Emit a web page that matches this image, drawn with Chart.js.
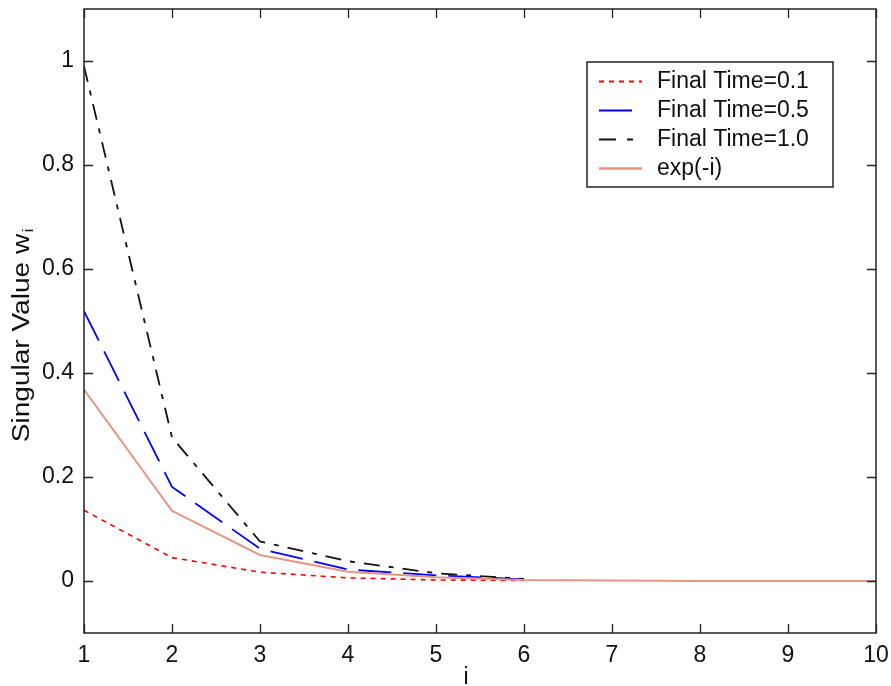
<!DOCTYPE html>
<html>
<head>
<meta charset="utf-8">
<title>Singular values</title>
<script src="https://cdn.jsdelivr.net/npm/chart.js@4.4.1/dist/chart.umd.min.js"></script>
<style>
  html, body { margin: 0; padding: 0; background: #ffffff; }
  #wrap { width: 891px; height: 686px; }
</style>
</head>
<body>
<div id="wrap"><canvas id="c" width="891" height="686"></canvas></div>
<script>
// index i of each singular value
const iValues = [1, 2, 3, 4, 5, 6, 7, 8, 9, 10];
// singular values w_i for each final time
const finalTime01 = [0.136, 0.045, 0.017, 0.006, 0.002, 0.001];
const finalTime05 = [0.519, 0.181, 0.062, 0.022, 0.011, 0.003];
const finalTime10 = [0.990, 0.276, 0.076, 0.038, 0.015, 0.004];
// reference curve exp(-i)
const expMinusI = [0.368, 0.135, 0.050, 0.018, 0.007, 0.002, 0.001, 0.000, 0.000, 0.000];
// axis tick values
const xTicks = [1, 2, 3, 4, 5, 6, 7, 8, 9, 10];
const yTicks = [0, 0.2, 0.4, 0.6, 0.8, 1];
const seriesLabels = ['Final Time=0.1', 'Final Time=0.5', 'Final Time=1.0', 'exp(-i)'];

const FONT = "'Liberation Sans', Arial, sans-serif";

function points(values) {
  return values.map((v, k) => ({ x: iValues[k], y: v }));
}

const datasets = [
  { label: seriesLabels[0], data: points(finalTime01), borderColor: '#ff0000', borderWidth: 1.6, borderDash: [5, 5], order: 3 },
  { label: seriesLabels[1], data: points(finalTime05), borderColor: '#0000ff', borderWidth: 1.8, borderDash: [33, 12], order: 2 },
  { label: seriesLabels[2], data: points(finalTime10), borderColor: '#111111', borderWidth: 1.8, borderDash: [16, 9, 5, 9], order: 1 },
  { label: seriesLabels[3], data: points(expMinusI), borderColor: 'rgb(232,148,132)', borderWidth: 2, borderDash: [], order: 0 }
];
datasets.forEach(d => { d.pointRadius = 0; d.fill = false; d.tension = 0; });

// box frame, inward ticks, axis titles and the boxed legend
const framePlugin = {
  id: 'frame',
  afterDraw(chart) {
    const ctx = chart.ctx;
    const a = chart.chartArea;
    const xs = chart.scales.x, ys = chart.scales.y;
    ctx.save();
    ctx.strokeStyle = '#222222';
    ctx.lineWidth = 1.5;
    ctx.setLineDash([]);
    ctx.strokeRect(a.left, a.top, a.right - a.left, a.bottom - a.top);

    const tl = 9;
    ctx.beginPath();
    xTicks.forEach(v => {
      const px = Math.round(xs.getPixelForValue(v)) + 0.5;
      ctx.moveTo(px, a.bottom); ctx.lineTo(px, a.bottom - tl);
      ctx.moveTo(px, a.top); ctx.lineTo(px, a.top + tl);
    });
    yTicks.forEach(v => {
      const py = Math.round(ys.getPixelForValue(v)) + 0.5;
      ctx.moveTo(a.left, py); ctx.lineTo(a.left + tl, py);
      ctx.moveTo(a.right, py); ctx.lineTo(a.right - tl, py);
    });
    ctx.lineWidth = 1.3;
    ctx.stroke();

    // y axis title with subscript
    ctx.fillStyle = '#111111';
    ctx.save();
    ctx.translate(29, 336);
    ctx.rotate(-Math.PI / 2);
    ctx.scale(1.22, 1);
    const main = 'Singular Value w';
    ctx.font = '23px ' + FONT;
    const wMain = ctx.measureText(main).width;
    ctx.font = '15px ' + FONT;
    const wSub = ctx.measureText('i').width;
    const start = -(wMain + wSub) / 2;
    ctx.textAlign = 'left';
    ctx.textBaseline = 'alphabetic';
    ctx.font = '23px ' + FONT;
    ctx.fillText(main, start, 0);
    ctx.font = '15px ' + FONT;
    ctx.fillText('i', start + wMain + 1, 4);
    ctx.restore();

    // x axis title
    ctx.font = '23px ' + FONT;
    ctx.textAlign = 'center';
    ctx.textBaseline = 'alphabetic';
    ctx.fillText('i', 466, 684);

    // legend
    const lx = 587, ly = 62, lw = 246, lh = 125;
    ctx.fillStyle = '#ffffff';
    ctx.fillRect(lx, ly, lw, lh);
    ctx.strokeStyle = '#222222';
    ctx.lineWidth = 1.5;
    ctx.strokeRect(lx, ly, lw, lh);
    const rows = [81, 110, 139, 168];
    chart.data.datasets.forEach((d, k) => {
      const y = rows[k] + 0.5;
      ctx.save();
      ctx.strokeStyle = d.borderColor;
      ctx.lineWidth = d.borderWidth + 0.4;
      ctx.setLineDash(k === 2 ? [17, 11, 6, 11] : d.borderDash);
      ctx.beginPath();
      ctx.moveTo(599, y); ctx.lineTo(642, y);
      ctx.stroke();
      ctx.restore();
      ctx.fillStyle = '#111111';
      ctx.font = '23px ' + FONT;
      ctx.textAlign = 'left';
      ctx.textBaseline = 'middle';
      ctx.fillText(d.label, 657, rows[k] + 1);
    });
    ctx.restore();
  }
};

new Chart(document.getElementById('c'), {
  type: 'line',
  data: { datasets },
  options: {
    responsive: false,
    animation: false,
    devicePixelRatio: 1,
    layout: { padding: { top: 9, right: 15, left: 0, bottom: 0 } },
    plugins: { legend: { display: false }, tooltip: { enabled: false } },
    scales: {
      x: {
        type: 'linear', min: 1, max: 10,
        afterBuildTicks: s => { s.ticks = xTicks.map(v => ({ value: v })); },
        afterFit: s => { s.height = 53; s.paddingLeft = 0; s.paddingRight = 0; },
        grid: { display: false, drawTicks: false },
        border: { display: false },
        ticks: { padding: 9, color: '#111111', font: { family: FONT, size: 23 }, maxRotation: 0,
                 callback: v => String(v) }
      },
      y: {
        type: 'linear', min: -0.1, max: 1.1,
        afterBuildTicks: s => { s.ticks = yTicks.map(v => ({ value: v })); },
        afterFit: s => { s.width = 84; s.paddingTop = 0; s.paddingBottom = 0; },
        grid: { display: false, drawTicks: false },
        border: { display: false },
        ticks: { padding: 10, color: '#111111', font: { family: FONT, size: 23 },
                 callback: v => String(Math.round(v * 10) / 10) }
      }
    }
  },
  plugins: [framePlugin]
});
</script>
</body>
</html>
